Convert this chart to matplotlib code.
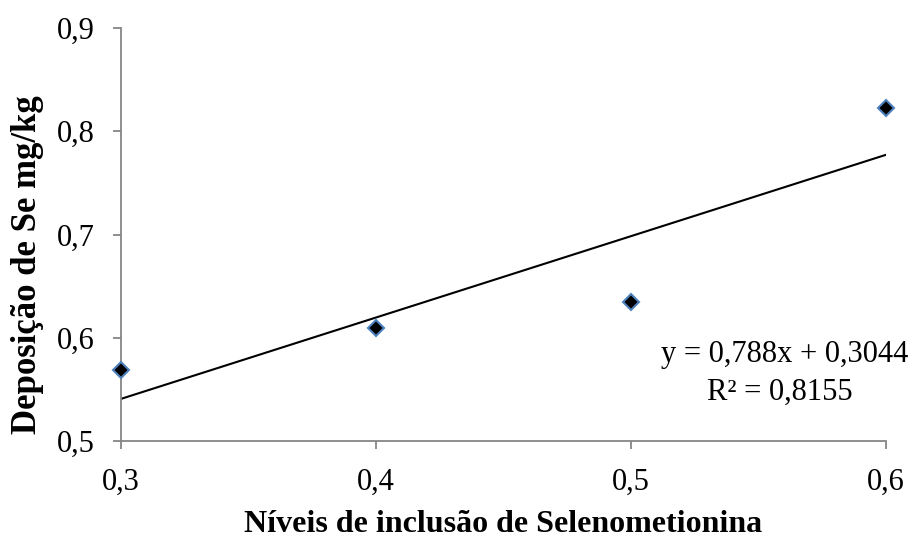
import matplotlib
matplotlib.use('Agg')
import matplotlib.pyplot as plt
import numpy as np

# ── Data ─────────────────────────────────────────────────────
niveis = [0.3, 0.4, 0.5, 0.6]
deposicao = [0.569, 0.609, 0.635, 0.823]
slope, intercept = 0.788, 0.3044
x_ticks = [0.3, 0.4, 0.5, 0.6]
y_ticks = [0.5, 0.6, 0.7, 0.8, 0.9]
eq_text = "y = 0,788x + 0,3044"
r2_text = "R² = 0,8155"

plt.rcParams['font.family'] = ['Liberation Serif', 'DejaVu Serif']

W, H = 916, 538
fig = plt.figure(figsize=(W / 100, H / 100), dpi=100)
ax = fig.add_axes([121 / W, 1 - 441 / H, (886 - 121) / W, (441 - 28) / H])

# trendline
xl = np.array([niveis[0], niveis[-1]])
ax.plot(xl, slope * xl + intercept, color='black', lw=1.5, zorder=2)

ax.plot(niveis, deposicao, linestyle='none', marker='D', markersize=8,
        markerfacecolor='black', markeredgecolor='#4F81BD', markeredgewidth=1.5,
        zorder=3, clip_on=False)

ax.set_xlim(0.3, 0.6)
ax.set_ylim(0.5, 0.9)
ax.set_xticks(x_ticks)
ax.set_yticks(y_ticks)
ax.set_xticklabels([f"{v:.1f}".replace('.', ',') for v in x_ticks])
ax.set_yticklabels([f"{v:.1f}".replace('.', ',') for v in y_ticks])

for s in ['top', 'right']:
    ax.spines[s].set_visible(False)
for s in ['left', 'bottom']:
    ax.spines[s].set_color('#868686')
    ax.spines[s].set_linewidth(1.3)
ax.tick_params(axis='both', direction='out', length=6, width=1.3, color='#868686',
               labelsize=22)
ax.tick_params(axis='y', pad=13)
ax.tick_params(axis='x', pad=13)

# trendline equation
fig.text(785 / W, 1 - 362 / H, eq_text, ha='center', va='baseline', fontsize=22)
fig.text(780 / W, 1 - 400 / H, r2_text, ha='center', va='baseline', fontsize=22)

fig.text(503 / W, 1 - 532 / H, "Níveis de inclusão de Selenometionina",
         ha='center', va='baseline', fontsize=23, fontweight='bold')
fig.text(28 / W, 1 - 265 / H, "Deposição de Se mg/kg", rotation=90,
         ha='center', va='center', fontsize=25, fontweight='bold')

fig.savefig('out.png', dpi=100)
